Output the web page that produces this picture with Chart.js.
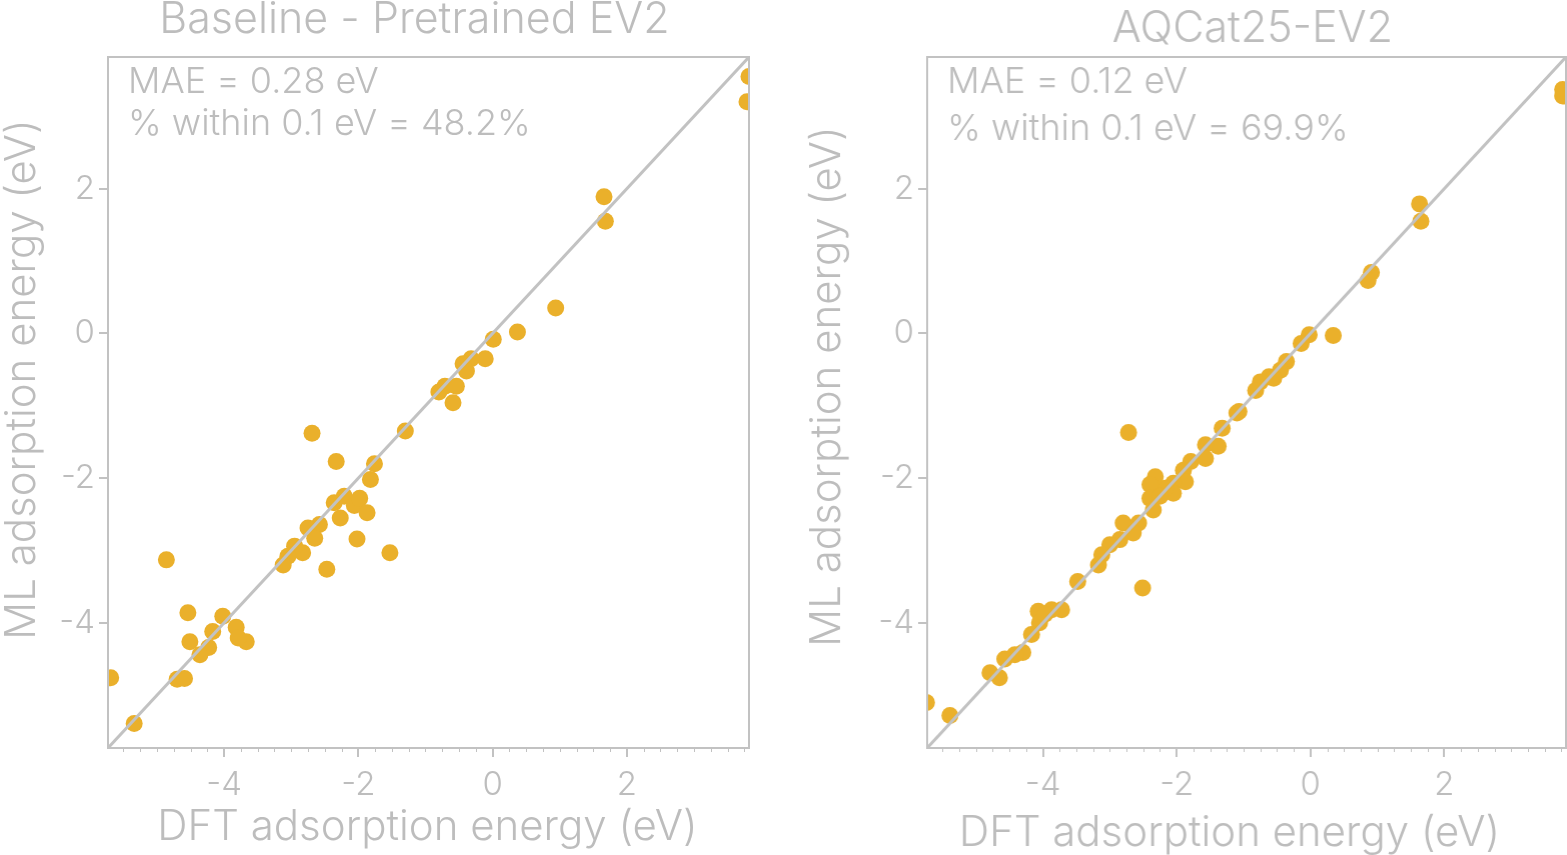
<!DOCTYPE html>
<html lang="en">
<head>
<meta charset="UTF-8">
<script src="https://cdn.jsdelivr.net/npm/chart.js@4.4.0/dist/chart.umd.min.js"></script>
<title>Adsorption energy parity</title>
<style>
  html, body { margin: 0; padding: 0; background: #fff; overflow: hidden; }
  .panel { position: absolute; top: 0; height: 855px; }
  .panel canvas { display: block; }
  #left { left: 0; width: 790px; }
  #right { left: 790px; width: 777px; }
</style>
</head>
<body>
<div class="panel" id="left"><canvas id="baselineChart"></canvas></div>
<div class="panel" id="right"><canvas id="aqcatChart"></canvas></div>

<script>
// axis limits (same on x and y, parity line goes corner to corner)
const axisMin = -5.73, axisMax = 3.82;
const tickValues = [-4, -2, 0, 2];

// Baseline - Pretrained EV2
const baselineDft = [-2.69, -2.33, -1.76, -1.82, -1.30, -2.36, -2.21, -2.06, -1.98, -2.27,
  -1.87, -2.02, -1.53, -2.47, -2.58, -2.75, -2.65, -2.83, -2.95, -3.05,
  -3.12, -4.86, -4.54, -4.02, -4.17, -3.82, -4.51, -3.67, -3.79, -4.23,
  -4.36, -4.70, -4.59, -5.69, -5.34, 3.82, 3.79, 1.66, 1.68, 0.94,
  0.37, 0.01, -0.11, -0.32, -0.44, -0.39, -0.71, -0.54, -0.80, -0.59];
const baselineMl = [-1.38, -1.77, -1.80, -2.02, -1.35, -2.34, -2.25, -2.38, -2.28, -2.55,
  -2.48, -2.84, -3.03, -3.26, -2.64, -2.69, -2.83, -3.03, -2.94, -3.08,
  -3.20, -3.13, -3.86, -3.91, -4.12, -4.06, -4.26, -4.26, -4.21, -4.34,
  -4.44, -4.78, -4.77, -4.76, -5.39, 3.55, 3.20, 1.89, 1.55, 0.35,
  0.02, -0.08, -0.35, -0.35, -0.42, -0.52, -0.73, -0.73, -0.81, -0.96];

// AQCat25-EV2
const aqcatDft = [-2.72, -2.51, -1.10, -1.32, -1.38, -1.57, -1.57, -1.79, -1.90, -1.87,
  -2.05, -2.05, -2.17, -2.32, -2.40, -2.40, -2.25, -2.35, -2.57, -2.80,
  -2.65, -2.85, -3.00, -3.12, -3.17, -3.48, -3.72, -3.87, -4.07, -4.05,
  -4.17, -4.30, -4.42, -4.57, -4.65, -4.79, -5.74, -5.39, -3.97,
  3.77, 3.77, 1.63, 1.65, 0.91, 0.86, 0.34, -0.02, -0.14, -0.36,
  -0.45, -0.62, -0.75, -0.82, -1.07, -0.55];
const aqcatMl = [-1.37, -3.52, -1.10, -1.31, -1.56, -1.54, -1.73, -1.77, -1.89, -2.05,
  -2.07, -2.21, -2.14, -1.98, -2.09, -2.28, -2.25, -2.44, -2.62, -2.62,
  -2.76, -2.85, -2.92, -3.06, -3.20, -3.43, -3.82, -3.82, -3.84, -4.00,
  -4.16, -4.41, -4.44, -4.50, -4.76, -4.69, -5.10, -5.28, -3.88,
  3.37, 3.28, 1.79, 1.55, 0.84, 0.73, -0.03, -0.02, -0.14, -0.39,
  -0.51, -0.60, -0.67, -0.79, -1.08, -0.62];

const titles = ['Baseline - Pretrained EV2', 'AQCat25-EV2'];
const maeLabels = ['MAE = 0.28 eV', 'MAE = 0.12 eV'];
const withinLabels = ['% within 0.1 eV = 48.2%', '% within 0.1 eV = 69.9%'];
const xTitle = 'DFT adsorption energy (eV)';
const yTitle = 'ML adsorption energy (eV)';

const dotColor = '#EAB02B';
const lineGray = '#c2c2c2';
const textGray = '#bdbdbd';
const FONT = 'Inter';

// titles, stats, axis titles, frame and minor x ticks
const panelText = {
  id: 'panelText',
  afterDraw(chart, args, o) {
    const { ctx, chartArea: a } = chart;
    const xs = chart.scales.x;
    ctx.save();
    ctx.strokeStyle = lineGray;
    ctx.lineWidth = 2;
    ctx.strokeRect(a.left, a.top, a.right - a.left, a.bottom - a.top);

    ctx.lineWidth = 1;
    ctx.beginPath();
    for (let v = Math.ceil(axisMin * 4) / 4; v <= axisMax; v += 0.25) {
      if (tickValues.includes(v)) continue;
      const px = Math.round(xs.getPixelForValue(v)) + 0.5;
      ctx.moveTo(px, a.bottom);
      ctx.lineTo(px, a.bottom + 4);
    }
    ctx.stroke();

    ctx.fillStyle = textGray;
    ctx.textBaseline = 'alphabetic';
    ctx.textAlign = 'center';
    ctx.font = '300 43px ' + FONT;
    ctx.fillText(o.title, (a.left + a.right) / 2 + o.titleDx, o.titleY);
    ctx.font = '300 42px ' + FONT;
    ctx.fillText(xTitle, (a.left + a.right) / 2 + o.xTitleDx, o.xTitleY);

    ctx.textAlign = 'left';
    ctx.font = '300 36px ' + FONT;
    ctx.fillText(o.mae, a.left + 20, o.statY[0]);
    ctx.fillText(o.within, a.left + 20, o.statY[1]);

    ctx.translate(o.yTitleX, (a.top + a.bottom) / 2 + o.yTitleDy);
    ctx.rotate(-Math.PI / 2);
    ctx.textAlign = 'center';
    ctx.textBaseline = 'middle';
    ctx.font = '300 42px ' + FONT;
    ctx.fillText(yTitle, 0, 0);
    ctx.restore();
  }
};

function makeChart(id, dft, ml, layout) {
  const points = dft.map((x, k) => ({ x: x, y: ml[k] }));
  const tickFont = { family: FONT, size: 33, weight: 300 };
  return new Chart(document.getElementById(id), {
    type: 'scatter',
    data: {
      datasets: [
        {
          type: 'line',
          data: [{ x: axisMin, y: axisMin }, { x: axisMax, y: axisMax }],
          borderColor: lineGray,
          borderWidth: 3,
          pointRadius: 0,
          order: 0
        },
        {
          data: points,
          backgroundColor: dotColor,
          borderWidth: 0,
          pointRadius: 8.5,
          pointHoverRadius: 8.5,
          clip: 0,
          order: 1
        }
      ]
    },
    options: {
      responsive: true,
      maintainAspectRatio: false,
      animation: false,
      events: [],
      layout: { padding: layout.padding },
      plugins: {
        legend: { display: false },
        tooltip: { enabled: false },
        panelText: layout.text
      },
      scales: {
        x: {
          type: 'linear',
          min: axisMin,
          max: axisMax,
          afterBuildTicks: s => { s.ticks = tickValues.map(v => ({ value: v })); },
          afterFit: s => { s.height = 107; s.paddingLeft = 0; s.paddingRight = 0; },
          grid: { drawOnChartArea: false, tickLength: 9, color: lineGray, lineWidth: 2 },
          border: { color: lineGray, width: 2 },
          ticks: { color: textGray, font: tickFont, padding: 8, maxRotation: 0,
                   callback: v => String(v) }
        },
        y: {
          type: 'linear',
          min: axisMin,
          max: axisMax,
          afterBuildTicks: s => { s.ticks = tickValues.map(v => ({ value: v })); },
          afterFit: s => { s.width = layout.yWidth; s.paddingTop = 0; s.paddingBottom = 0; },
          grid: { drawOnChartArea: false, tickLength: 9, color: lineGray, lineWidth: 2 },
          border: { color: lineGray, width: 2 },
          ticks: { color: textGray, font: tickFont, padding: 4,
                   callback: v => String(v) }
        }
      }
    },
    plugins: [panelText]
  });
}

makeChart('baselineChart', baselineDft, baselineMl, {
  padding: { left: 0, right: 41, top: 57, bottom: 0 },
  yWidth: 108,
  text: { title: titles[0], titleDx: -14, titleY: 33, xTitleDx: -1, xTitleY: 840,
          mae: maeLabels[0], within: withinLabels[0], statY: [93, 135],
          yTitleX: 22, yTitleDy: -23 }
});

const aqcat = makeChart('aqcatChart', aqcatDft, aqcatMl, {
  padding: { left: 0, right: 2, top: 57, bottom: 0 },
  yWidth: 137,
  text: { title: titles[1], titleDx: 6, titleY: 42, xTitleDx: -17, xTitleY: 846,
          mae: maeLabels[1], within: withinLabels[1], statY: [93, 140],
          yTitleX: 37, yTitleDy: -16 }
});

// the right plot area should end 2px before the window edge; widen its box if the layout kept extra room
const shortBy = (777 - 2) - aqcat.chartArea.right;
if (shortBy > 0.5) {
  document.getElementById('right').style.width = (777 + shortBy) + 'px';
  aqcat.resize();
}
</script>
</body>
</html>
